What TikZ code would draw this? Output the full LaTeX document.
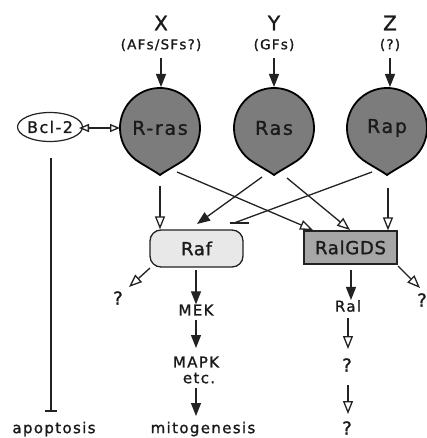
\documentclass[tikz,border=0pt]{standalone}
\usepackage{fontspec}
\usetikzlibrary{arrows.meta,shapes.geometric}
\newfontfamily\labfont{DejaVu Sans}[LetterSpace=9,FakeBold=1.2]
\newfontfamily\boxfont{DejaVu Sans}[LetterSpace=4,FakeBold=1.2]
\definecolor{txt}{HTML}{1A1A1A}
\definecolor{ln}{HTML}{222222}
\definecolor{dropfill}{HTML}{7C7C7C}
\definecolor{raffill}{HTML}{E8E8E8}
\definecolor{ralfill}{HTML}{A6A6A6}
\tikzset{
  con/.style={draw=ln, line width=1.3pt},
  fa/.style={con, -{Triangle[length=13pt,width=10pt]}},
  oa/.style={con, -{Triangle[open,length=13pt,width=10pt]}},
  dbl/.style={con, {Triangle[open,length=10pt,width=8pt]}-{Triangle[open,length=10pt,width=8pt]}},
  lbl/.style={inner sep=0pt, text=txt, font=\labfont\fontsize{15}{17}\selectfont},
  qlbl/.style={inner sep=0pt, text=txt, font=\labfont\fontsize{18}{20}\selectfont},
  biglbl/.style={inner sep=0pt, text=txt, font=\labfont\fontsize{20}{22}\selectfont},
  sublbl/.style={inner sep=0pt, text=txt, font=\labfont\fontsize{13.5}{15}\selectfont},
  droplbl/.style={inner sep=0pt, text=txt, font=\labfont\fontsize{19}{21}\selectfont},
  rafbox/.style={draw=ln, line width=1.3pt, fill=raffill, rounded corners=11pt, minimum width=93pt, minimum height=37pt, inner sep=0pt, text=txt, font=\boxfont\fontsize{18}{20}\selectfont},
  ralbox/.style={draw=ln, line width=1.3pt, fill=ralfill, minimum width=93pt, minimum height=33pt, inner sep=0pt, text=txt, font=\boxfont\fontsize{18}{20}\selectfont},
  bclnode/.style={draw=ln, line width=1.2pt, ellipse, minimum width=57pt, minimum height=29pt, inner sep=0pt, text=txt, font=\labfont\fontsize{16}{18}\selectfont},
  drop/.pic={\draw[draw=black, line width=1.8pt, fill=dropfill, line join=miter]
     (0,-47) .. controls (4,-44) and (13,-39) .. (20,-34.64)
     arc[start angle=-60, end angle=240, radius=40]
     .. controls (-13,-39) and (-4,-44) .. (0,-47) -- cycle;}
}
\begin{document}
\begin{tikzpicture}[x=1pt,y=1pt]
\fill[white] (0,0) rectangle (427,-438);
\useasboundingbox (0,0) rectangle (427,-438);

% inputs
\node[biglbl] (X) at (161,-23) {X};
\node[sublbl] (Xs) at (161,-45) {(AFs/SFs?)};
\node[biglbl] (Y) at (274,-23) {Y};
\node[sublbl] (Ys) at (274,-45) {(GFs)};
\node[biglbl] (Z) at (390,-23) {Z};
\node[sublbl] (Zs) at (390,-45) {(?)};

% teardrops
\pic at (160,-128) {drop};
\pic at (274,-128) {drop};
\pic at (387,-128) {drop};
\node[droplbl] (rras) at (160,-128) {R-ras};
\node[droplbl] (ras) at (274,-128) {Ras};
\node[droplbl] (rap) at (387,-128) {Rap};

% Bcl-2
\node[bclnode] (bcl) at (50,-127) {Bcl-2};

% boxes
\node[rafbox] (raf) at (196.5,-248.5) {Raf};
\node[ralbox] (ralgds) at (350.5,-247.5) {RalGDS};

% downstream labels
\node[qlbl] (q1) at (118,-298) {?};
\node[lbl] (mek) at (196,-310) {MEK};
\node[lbl] (mapk) at (196,-362) {MAPK};
\node[lbl] (etc) at (199,-378) {etc.};
\node[lbl] (mito) at (203,-429) {mitogenesis};
\node[lbl] (ral) at (348,-306) {Ral};
\node[qlbl] (q2) at (347,-365) {?};
\node[qlbl] (q3) at (347,-428) {?};
\node[qlbl, anchor=east] (q4) at (427,-300) {?};
\node[lbl] (apo) at (54,-429) {apoptosis};

% coordinates
\coordinate (xA) at (161,-58);   \coordinate (xB) at (161,-87);
\coordinate (yA) at (274,-58);   \coordinate (yB) at (274,-87);
\coordinate (zA) at (390,-58);   \coordinate (zB) at (390,-87);
\coordinate (bclR) at (79,-128); \coordinate (rrasL) at (120,-128);
\coordinate (rrasD) at (160,-186);
\coordinate (rrasR) at (177,-172);
\coordinate (rasL) at (262,-177);
\coordinate (rasR) at (287,-178);
\coordinate (rapL) at (372,-172);
\coordinate (rapD) at (388,-188);
\coordinate (rafN1) at (197,-224);
\coordinate (rafN2) at (234,-223);
\coordinate (ralN1) at (313,-230);
\coordinate (ralN2) at (350,-230);
\coordinate (bclA) at (51,-158);
\coordinate (bclB) at (51,-411);
\coordinate (rafSW) at (150,-268);
\coordinate (q1A) at (129,-287);
\coordinate (rafS) at (196,-270);
\coordinate (ralgdsS) at (351,-270);
\coordinate (ralgdsSE) at (398,-266);
\coordinate (q4A) at (420,-288);
\coordinate (mekS) at (196,-320);
\coordinate (mapkA) at (196,-348);
\coordinate (etcS) at (196,-388);
\coordinate (mitoA) at (196,-416);
\coordinate (ralS) at (348,-318);
\coordinate (q2A) at (348,-349);
\coordinate (q2S) at (348,-385);
\coordinate (q3A) at (348,-414);

% input arrows
\draw[fa] (xA) -- (xB);
\draw[fa] (yA) -- (yB);
\draw[fa] (zA) -- (zB);

% Bcl-2 <-> R-ras
\draw[dbl] (bclR) -- (rrasL);

% Bcl-2 inhibits apoptosis
\draw[con] (bclA) -- (bclB);
\draw[con] ([xshift=-6pt]bclB) -- ([xshift=6pt]bclB);

% to Raf
\draw[oa] (rrasD) -- (rrasD |- raf.north);
\draw[fa] (rasL) -- (rafN1);
\draw[con] (rapL) -- (rafN2);
\draw[con] ([xshift=-4pt]rafN2) -- ([xshift=15pt]rafN2);

% to RalGDS
\draw[oa] (rrasR) -- (ralN1);
\draw[oa] (rasR) -- (ralN2);
\draw[oa] (rapD) -- (rapD |- ralgds.north);

% Raf downstream
\draw[oa] (rafSW) -- (q1A);
\draw[fa] (rafS) -- (mek.north);
\draw[fa] (mekS) -- (mapkA);
\draw[fa] (etcS) -- (mitoA);

% RalGDS downstream
\draw[fa] (ralgdsS) -- (ral.north -| ralgdsS);
\draw[oa] (ralgdsSE) -- (q4A);
\draw[oa] (ralS) -- (q2A);
\draw[oa] (q2S) -- (q3A);
\end{tikzpicture}
\end{document}
